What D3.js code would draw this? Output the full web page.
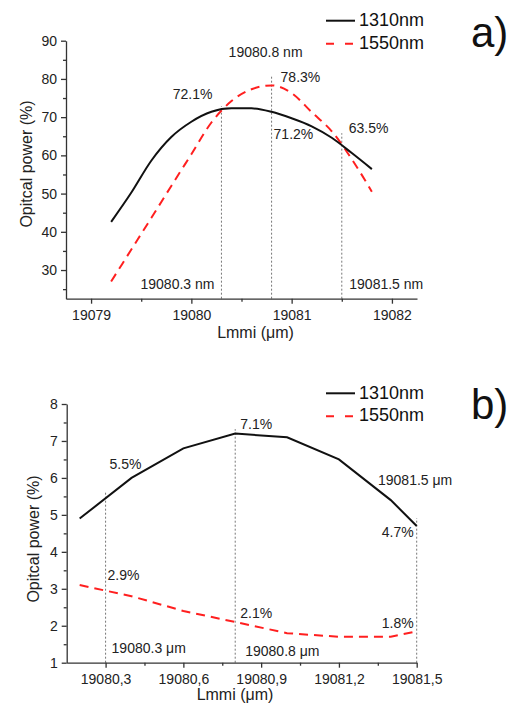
<!DOCTYPE html>
<html>
<head>
<meta charset="utf-8">
<script src="https://cdn.jsdelivr.net/npm/d3@7"></script>
<style>
  body { margin: 0; background: #fff; }
  svg { font-family: "Liberation Sans", Arial, sans-serif; }
  .axis path, .axis line { stroke: #333; stroke-width: 1.3; }
  .axis text { font-size: 14px; fill: #222; }
  .note { fill: #222; }
</style>
</head>
<body>
<div id="chart"></div>
<script>
var seriesNames = ['1310nm', '1550nm'];

// panel a) values
var aLmmi = [19079.2, 19079.4, 19079.6, 19079.8, 19080.0, 19080.2, 19080.4,
  19080.6, 19080.8, 19081.0, 19081.2, 19081.4, 19081.6, 19081.8];
var a1310 = [42.6, 50.2, 58.6, 64.8, 68.8, 71.4, 72.3, 72.3, 71.4, 69.7, 67.6, 64.6, 60.6, 56.4];
var a1550 = [27.0, 35.3, 43.6, 52.0, 60.3, 68.6, 74.2, 77.3, 78.3, 76.3, 71.3, 66.3, 59.0, 50.5];
var aMarks = [19080.3, 19080.8, 19081.5];
var aMarkTops = [72.9, 80.8, 65.8];
var aXTicks = [19079, 19080, 19081, 19082];
var aXMinor = [19079.5, 19080.5, 19081.5];
var aYTicks = [30, 40, 50, 60, 70, 80, 90];
var aYMinor = [25, 35, 45, 55, 65, 75, 85];
var aPct = ['72.1%', '78.3%', '71.2%', '63.5%'];
var aNm = ['19080.3 nm', '19080.8 nm', '19081.5 nm'];

// panel b) values
var bLmmi = [19080.2, 19080.4, 19080.6, 19080.8, 19081.0, 19081.2, 19081.4, 19081.5];
var b1310 = [4.9, 6.0, 6.8, 7.2, 7.1, 6.5, 5.4, 4.7];
var b1550 = [3.1, 2.8, 2.4, 2.1, 1.8, 1.7, 1.7, 1.85];
var bMarks = [19080.3, 19080.8, 19081.5];
var bMarkTops = [5.63, 7.32, 4.91];
var bXTicks = [19080.3, 19080.6, 19080.9, 19081.2, 19081.5];
var bXMinor = [19080.45, 19080.75, 19081.05, 19081.35];
var bYTicks = [1, 2, 3, 4, 5, 6, 7, 8];
var bYMinor = [1.5, 2.5, 3.5, 4.5, 5.5, 6.5, 7.5];
var bPct = ['5.5%', '7.1%', '4.7%', '2.9%', '2.1%', '1.8%'];
var bUm = ['19080.3 \u03bcm', '19080.8 \u03bcm', '19081.5 \u03bcm'];

var svg = d3.select('#chart').append('svg')
  .attr('width', 511)
  .attr('height', 711);

function axes(g, x, y, xt, xm, yt, ym, fmt) {
  var h = y.range()[0];
  var l = x.range()[0];
  g.append('g').attr('class', 'axis')
    .attr('transform', 'translate(0,' + h + ')')
    .call(d3.axisBottom(x).tickValues(xt).tickSize(5).tickSizeOuter(0).tickPadding(6).tickFormat(fmt));
  g.append('g').attr('class', 'axis')
    .attr('transform', 'translate(0,' + h + ')')
    .call(d3.axisBottom(x).tickValues(xm).tickSize(3).tickFormat(''))
    .select('.domain').remove();
  g.append('g').attr('class', 'axis')
    .attr('transform', 'translate(' + l + ',0)')
    .call(d3.axisLeft(y).tickValues(yt).tickSize(5).tickSizeOuter(0).tickPadding(4).tickFormat(d3.format('d')));
  g.append('g').attr('class', 'axis')
    .attr('transform', 'translate(' + l + ',0)')
    .call(d3.axisLeft(y).tickValues(ym).tickSize(3).tickFormat(''))
    .select('.domain').remove();
}

function curves(g, x, y, xs, s1, s2, curve) {
  var line = d3.line().curve(curve)
    .x(function(d) { return x(d[0]); })
    .y(function(d) { return y(d[1]); });
  g.append('path')
    .attr('d', line(xs.map(function(v, i) { return [v, s2[i]]; })))
    .attr('fill', 'none').attr('stroke', '#ff1f1f')
    .attr('stroke-width', 2).attr('stroke-dasharray', '9,6');
  g.append('path')
    .attr('d', line(xs.map(function(v, i) { return [v, s1[i]]; })))
    .attr('fill', 'none').attr('stroke', '#111')
    .attr('stroke-width', 2);
}

function marks(g, x, y, xs, tops) {
  g.selectAll('.mark' + xs.length).data(xs).enter().append('line')
    .attr('x1', function(d) { return x(d); })
    .attr('x2', function(d) { return x(d); })
    .attr('y1', y.range()[0])
    .attr('y2', function(d, i) { return y(tops[i]); })
    .attr('stroke', '#777').attr('stroke-width', 1)
    .attr('stroke-dasharray', '2,2');
}

function legend(g, top, tag) {
  g.append('line').attr('x1', 326).attr('x2', 355)
    .attr('y1', top).attr('y2', top)
    .attr('stroke', '#111').attr('stroke-width', 2);
  g.append('line').attr('x1', 326).attr('x2', 354)
    .attr('y1', top + 23).attr('y2', top + 23)
    .attr('stroke', '#ff1f1f').attr('stroke-width', 2).attr('stroke-dasharray', '8,11');
  g.selectAll('.leg').data(seriesNames).enter().append('text')
    .attr('x', 359).attr('y', function(d, i) { return top + 5.5 + i * 22.5; })
    .attr('font-size', 18).attr('fill', '#111')
    .text(function(d) { return d; });
  g.append('text').attr('x', 471).attr('y', top + 26)
    .attr('font-size', 42).attr('fill', '#111').text(tag);
}

function note(g, txt, px, py, size, anchor) {
  g.append('text').attr('class', 'note')
    .attr('x', px).attr('y', py)
    .attr('font-size', size)
    .attr('text-anchor', anchor || 'start')
    .text(txt);
}

function title(g, txt, px, py, rot) {
  g.append('text')
    .attr('transform', 'translate(' + px + ',' + py + ')' + (rot ? ' rotate(-90)' : ''))
    .attr('text-anchor', 'middle')
    .attr('font-size', 16).attr('fill', '#222')
    .text(txt);
}

// ---------- panel a ----------
var ga = svg.append('g');
var xa = d3.scaleLinear().domain([19078.75, 19082.25]).range([66, 417]);
var ya = d3.scaleLinear().domain([22.5, 90]).range([298.7, 40.7]);
marks(ga, xa, ya, aMarks, aMarkTops);
curves(ga, xa, ya, aLmmi, a1310, a1550, d3.curveMonotoneX);
axes(ga, xa, ya, aXTicks, aXMinor, aYTicks, aYMinor, d3.format('d'));
legend(ga, 20.7, 'a)');
note(ga, aPct[0], xa(aMarks[0]) - 9, 99, 14, 'end');
note(ga, aPct[1], xa(aMarks[1]) + 9, 81.7, 14);
note(ga, aPct[2], xa(aMarks[1]) + 2, 139, 14);
note(ga, aPct[3], xa(aMarks[2]) + 7, 132.7, 14);
note(ga, aNm[0], xa(aMarks[0]) - 7, 289, 14, 'end');
note(ga, aNm[1], xa(aMarks[1]) - 6, 56.7, 14, 'middle');
note(ga, aNm[2], xa(aMarks[2]) + 7.5, 289, 14);
title(ga, 'Lmmi (\u03bcm)', 255.5, 338);
title(ga, 'Opitcal power (%)', 31.5, 164, true);

// ---------- panel b ----------
var gb = svg.append('g');
var xb = d3.scaleLinear().domain([19080.15, 19081.5]).range([66.7, 416.7]);
var yb = d3.scaleLinear().domain([1, 8]).range([662.7, 404]);
marks(gb, xb, yb, bMarks, bMarkTops);
curves(gb, xb, yb, bLmmi, b1310, b1550, d3.curveLinear);
axes(gb, xb, yb, bXTicks, bXMinor, bYTicks, bYMinor, function(d) {
  return d3.format('.1f')(d).replace('.', ',');
});
legend(gb, 393.3, 'b)');
note(gb, bPct[0], xb(bMarks[0]) + 4, 469.3, 14);
note(gb, bPct[1], xb(bMarks[1]) + 5, 429, 14);
note(gb, bPct[2], xb(bMarks[2]) - 3, 536.7, 14, 'end');
note(gb, bPct[3], xb(bMarks[0]) + 2, 580, 14);
note(gb, bPct[4], xb(bMarks[1]) + 5, 618.3, 14);
note(gb, bPct[5], xb(bMarks[2]) - 3, 627.7, 14, 'end');
note(gb, bUm[0], xb(bMarks[0]) + 6, 652.7, 14);
note(gb, bUm[1], xb(bMarks[1]) + 10, 656, 14);
note(gb, bUm[2], 378, 485, 14);
title(gb, 'Lmmi (\u03bcm)', 235, 700);
title(gb, 'Opitcal power (%)', 39, 539, true);
</script>
</body>
</html>
